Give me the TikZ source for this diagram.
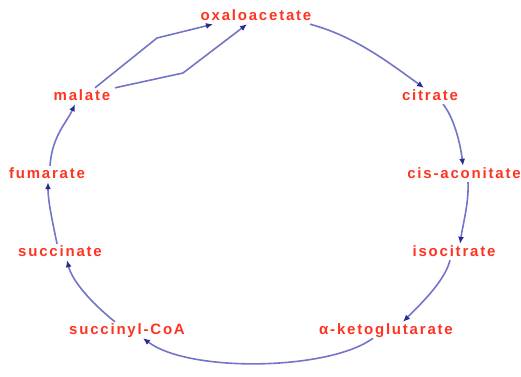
\documentclass[tikz,border=0pt]{standalone}
\usepackage{fontspec}
\usetikzlibrary{arrows.meta}
\newfontfamily\labfont[LetterSpace=12]{Liberation Sans}
\definecolor{labred}{HTML}{FF3322}
\definecolor{linecol}{HTML}{7474C8}
\definecolor{tipcol}{HTML}{2A2A90}
\tikzset{
  met/.style={text=labred, font=\labfont\bfseries\fontsize{15}{18}\selectfont,
    inner sep=1pt, text height=11pt, text depth=3pt},
  flow/.style={draw=linecol, line width=1.6pt,
    -{Latex[length=7pt,width=6pt,color=tipcol]}}
}
\begin{document}
\begin{tikzpicture}[x=1pt,y=-1pt]
\useasboundingbox (0,0) rectangle (521,376);
\node[met] (ox)  at (256,16)  {oxaloacetate};
\node[met] (cit) at (430,96)  {citrate};
\node[met] (cis) at (464,174) {cis-aconitate};
\node[met] (iso) at (454,252) {isocitrate};
\node[met] (akg) at (386,330) {α-ketoglutarate};
\node[met] (sca) at (127,330) {succinyl-CoA};
\node[met] (suc) at (60,252)  {succinate};
\node[met] (fum) at (47,174)  {fumarate};
\node[met] (mal) at (82,96)   {malate};

\draw[flow] ([xshift=54pt]ox.south) .. controls +(45,12) and +(-35,-25) .. ([xshift=-6pt]cit.north);
\draw[flow] ([xshift=13pt]cit.south) .. controls +(10,12) and +(-3,-25) .. ([xshift=-1pt]cis.north);
\draw[flow] ([xshift=4pt]cis.south) .. controls +(1,20) and +(3,-20) .. ([xshift=6pt]iso.north);
\draw[flow] ([xshift=-4pt]iso.south) .. controls +(-5,20) and +(20,-20) .. ([xshift=17pt]akg.north);
\draw[flow] ([xshift=-13pt]akg.south) .. controls +(-43,32) and +(47,35) .. ([xshift=16pt]sca.south);
\draw[flow] ([xshift=-12pt]sca.north) .. controls +(-25,-20) and +(5,20) .. ([xshift=7pt]suc.south);
\draw[flow] ([xshift=-3pt]suc.north) .. controls +(-4,-20) and +(0,20) .. ([xshift=1pt]fum.south);
\draw[flow] ([xshift=3pt]fum.north) .. controls +(2,-30) and +(-8,18) .. ([xshift=-7pt]mal.south);
\draw[flow] ([xshift=13pt]mal.north) -- (157,38) -- ([xshift=-43pt]ox.south);
\draw[flow] ([xshift=33pt]mal.north) -- (183,73) -- ([xshift=-9pt]ox.south);
\end{tikzpicture}
\end{document}
